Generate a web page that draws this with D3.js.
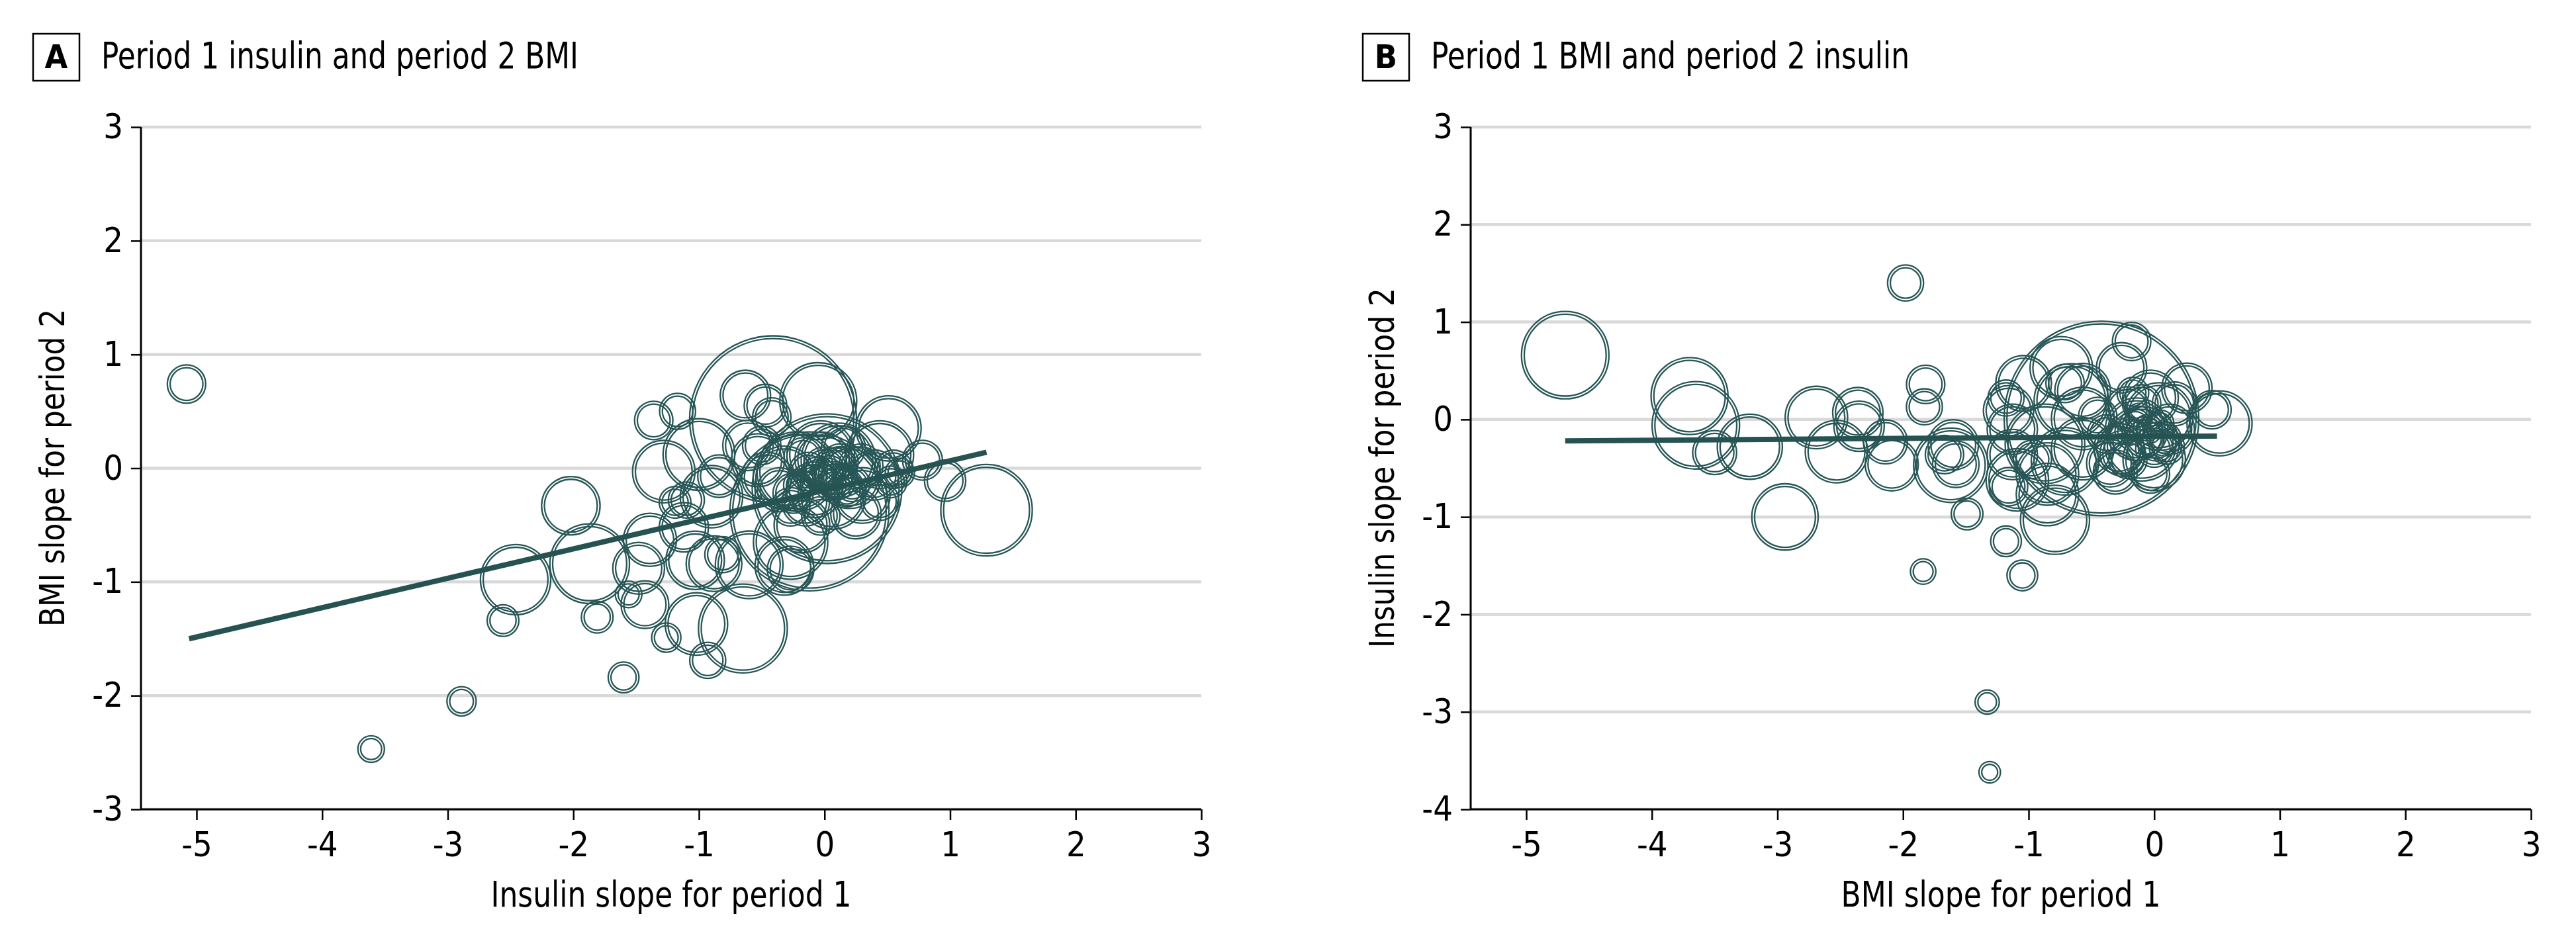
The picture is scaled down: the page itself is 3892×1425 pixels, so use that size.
<!DOCTYPE html>
<html>
<head>
<meta charset="utf-8">
<script src="https://cdn.jsdelivr.net/npm/d3@7"></script>
<style>
  body { margin: 0; background: #fff; }
  svg text { font-family: "Liberation Sans Narrow", "DejaVu Sans Condensed", "Roboto Condensed", sans-serif; fill: #000; }
</style>
</head>
<body>
<svg id="chart" width="3892" height="1425"></svg>
<script>
// panel A: period 1 insulin slope (x) vs period 2 BMI slope (y), weight -> bubble area
const insulinP1 = [-5.08, -3.61, -2.89, -2.56, -2.46, -2.02, -1.87, -1.81, -1.60, -1.56, -1.43, -1.36, -1.17, -1.28, -1.26, -0.93, -0.65, -1.02, -1.39, -1.48,
  -1.12, -1.03, -0.88, -0.81, -0.60, -0.32, -0.27, -0.27, -0.18, -0.61, -0.53, -1.00, -0.84, -0.90, -1.10, -1.19, -0.41, -0.63, -0.05, 0.51,
  -0.47, -0.42, 0.78, 0.96, 1.29, 0.02, -0.12, -0.03, 0.11, -0.22, -0.32, 0.20, 0.29, 0.39, 0.55, 0.60, -0.08, 0.06, -0.13, 0.04,
  -0.17, 0.15, -0.36, -0.46, 0.30, 0.44, 0.25, -0.03, -0.27, 0.44, -0.50, 0.53, -0.10, 0.10, -0.20, 0.00, 0.18,
  -0.05, 0.08, -0.25, 0.12, -0.15, 0.22, -0.02, 0.05];
const bmiP2 = [0.74, -2.47, -2.05, -1.34, -0.98, -0.33, -0.84, -1.31, -1.84, -1.11, -1.20, 0.42, 0.50, -0.03, -1.49, -1.69, -1.41, -1.37, -0.63, -0.88,
  -0.52, -0.81, -0.84, -0.76, -0.85, -0.86, -0.89, -0.65, -0.50, 0.20, 0.07, 0.12, -0.07, -0.25, -0.28, -0.30, 0.43, 0.64, 0.59, 0.35,
  0.55, 0.45, 0.07, -0.11, -0.37, -0.18, -0.38, 0.12, 0.07, -0.03, -0.08, -0.08, 0.02, -0.06, -0.01, -0.04, -0.19, -0.24, -0.03, -0.03,
  0.10, 0.18, -0.19, -0.08, -0.24, -0.29, -0.40, -0.42, -0.34, 0.12, 0.20, -0.12, -0.10, -0.12, -0.15, 0.00, -0.20,
  -0.05, -0.02, -0.22, 0.05, -0.30, -0.14, 0.08, -0.15];
const weightA = [4.7, 2.1, 2.6, 3.1, 16.9, 11.5, 21.9, 3.1, 2.9, 2.1, 7.5, 4.7, 4.1, 13.2, 2.6, 4.1, 27.5, 13.2, 9.4, 8.9,
  8.0, 11.5, 10.4, 4.1, 15.6, 11.5, 7.1, 19.0, 10.4, 8.4, 9.4, 17.6, 5.9, 13.2, 4.1, 3.1, 100, 8.4, 20.4, 14.4,
  5.9, 4.7, 5.1, 5.5, 29.2, 80.1, 90.6, 15.6, 19.0, 21.9, 13.2, 13.2, 6.3, 8.4, 4.7, 2.6, 10.4, 15.6, 4.7, 3.1,
  4.7, 6.3, 6.3, 8.4, 10.4, 4.7, 8.4, 4.7, 4.7, 15.6, 4.7, 3.1, 2.6, 4.1, 3.1, 5.9, 3.1,
  3.6, 6.8, 5.2, 4.4, 7.4, 3.9, 9.8, 2.9];
const fitAx = [-5.06, 1.29];
const fitAy = [-1.50, 0.14];

// panel B: period 1 BMI slope (x) vs period 2 insulin slope (y)
const bmiP1 = [-4.69, -3.70, -3.65, -3.50, -3.22, -2.94, -2.69, -2.53, -2.36, -2.35, -2.14, -2.09, -1.98, -1.82, -1.83, -1.84, -1.49, -1.33, -1.31, -1.18,
  -1.05, -1.62, -1.60, -1.67, -1.58, -1.16, -1.18, -1.13, -1.04, -0.74, -0.42, -0.18, -0.26, -0.57, -0.71, 0.26, 0.46, 0.52, -0.03, 0.04,
  -0.14, -0.10, -0.28, -0.38, 0.00, -0.03, -0.31, -0.57, -0.71, -0.85, -0.79, -0.85, -1.09, -1.16, -0.97, -0.87, -1.13, -0.57, -0.66, -0.45,
  -0.21, -0.10, 0.12, 0.16, -0.17, 0.02, -0.21, -0.05, -0.12, 0.05,
  -0.08, 0.08, -0.25, -0.15, 0.00, -0.35, 0.10, -0.20];
const insulinP2 = [0.66, 0.24, -0.06, -0.34, -0.28, -1.00, 0.02, -0.33, 0.07, -0.07, -0.23, -0.46, 1.40, 0.36, 0.13, -1.56, -0.97, -2.90, -3.62, -1.25,
  -1.60, -0.47, -0.26, -0.36, -0.46, 0.09, 0.22, -0.10, 0.37, 0.53, 0.01, 0.80, 0.53, 0.29, 0.37, 0.32, 0.10, -0.04, 0.22, 0.03,
  -0.10, -0.25, -0.30, -0.15, -0.41, -0.56, -0.54, -0.30, -0.43, -0.56, -1.03, -0.77, -0.62, -0.69, -0.41, -0.25, -0.36, 0.01, 0.19, 0.03,
  0.11, 0.16, -0.10, 0.16, 0.27, -0.23, -0.41, -0.10, 0.03, -0.04,
  -0.18, -0.20, -0.35, -0.05, -0.30, -0.45, -0.28, -0.12];
const weightB = [26.6, 20.4, 26.6, 6.3, 14.4, 15.0, 13.2, 13.2, 8.4, 8.4, 6.3, 9.4, 4.1, 4.7, 4.1, 1.9, 3.1, 1.7, 1.3, 2.9,
  2.9, 19.0, 8.4, 4.7, 7.1, 8.4, 4.1, 8.4, 10.4, 13.2, 136.7, 4.7, 8.4, 10.4, 4.7, 8.4, 4.7, 14.4, 10.4, 15.6,
  13.2, 19.0, 8.4, 4.7, 13.2, 4.7, 6.3, 13.2, 15.6, 13.2, 16.3, 13.2, 13.2, 4.7, 4.7, 21.9, 8.4, 13.2, 19.0, 4.7,
  6.3, 4.7, 8.4, 6.3, 3.1, 4.7, 4.7, 2.6, 2.1, 2.1,
  5.2, 3.6, 6.8, 2.9, 4.4, 7.4, 3.9, 2.4];
const fitBx = [-4.69, 0.50];
const fitBy = [-0.22, -0.17];

const xTicks = [-5, -4, -3, -2, -1, 0, 1, 2, 3];
const yTicksA = [-3, -2, -1, 0, 1, 2, 3];
const yTicksB = [-4, -3, -2, -1, 0, 1, 2, 3];

const svg = d3.select("#chart");
const teal = "#285656";
const rScale = d3.scaleSqrt().domain([0, 100]).range([0, 124]);

function drawPanel(cfg) {
    const g = svg.append("g");
    const x = d3.scaleLinear().domain([-5, 3]).range([cfg.x0, cfg.x0 + 1518]);
    const y = d3.scaleLinear().domain([cfg.yTicks[0], 3]).range([1223, 192]);
    const left = cfg.x0 - 84, right = x(3);

    // gridlines
    g.append("g").selectAll("line")
        .data(cfg.yTicks)
        .join("line")
        .attr("x1", left).attr("x2", right)
        .attr("y1", d => y(d)).attr("y2", d => y(d))
        .attr("stroke", "#d9d9d9")
        .attr("stroke-width", 4.5);

    // bubbles, drawn as a thin double ring
    const pts = cfg.xs.map((v, i) => ({x: v, y: cfg.ys[i], w: cfg.ws[i]}));
    const bub = g.append("g").attr("fill", "none").attr("stroke", teal).attr("stroke-width", 2.3);
    [-2.1, 2.1].forEach(off => {
        bub.append("g").selectAll("circle")
            .data(pts)
            .join("circle")
            .attr("cx", d => x(d.x))
            .attr("cy", d => y(d.y))
            .attr("r", d => rScale(d.w) + off);
    });

    // fitted line
    g.append("path")
        .datum(cfg.fx.map((v, i) => [v, cfg.fy[i]]))
        .attr("d", d3.line().x(d => x(d[0])).y(d => y(d[1])))
        .attr("fill", "none")
        .attr("stroke", "#265252")
        .attr("stroke-width", 8);

    // axes
    const xAxis = g.append("g")
        .attr("transform", "translate(0,1223)")
        .call(d3.axisBottom(x).tickValues(xTicks).tickSize(16).tickPadding(18).tickFormat(d3.format("d")));
    xAxis.select(".domain").remove();
    xAxis.selectAll(".tick line").attr("stroke", "#000").attr("stroke-width", 2.5);
    xAxis.selectAll("text").attr("font-size", 52).text(d => String(d));

    const yAxis = g.append("g")
        .attr("transform", `translate(${left},0)`)
        .call(d3.axisLeft(y).tickValues(cfg.yTicks).tickSize(15).tickPadding(12).tickFormat(d3.format("d")));
    yAxis.select(".domain").remove();
    yAxis.selectAll(".tick line").attr("stroke", "#000").attr("stroke-width", 2.5);
    yAxis.selectAll("text").attr("font-size", 52).text(d => String(d));

    g.append("line").attr("x1", left).attr("x2", right).attr("y1", 1223).attr("y2", 1223)
        .attr("stroke", "#000").attr("stroke-width", 3);
    g.append("line").attr("x1", left).attr("x2", left).attr("y1", 192).attr("y2", 1223)
        .attr("stroke", "#000").attr("stroke-width", 3);

    // axis titles
    g.append("text")
        .attr("x", (left + right) / 2).attr("y", 1370)
        .attr("text-anchor", "middle")
        .attr("font-size", 54)
        .attr("textLength", cfg.xLen).attr("lengthAdjust", "spacingAndGlyphs")
        .text(cfg.xLabel);
    g.append("text")
        .attr("transform", `translate(${left - 116},707) rotate(-90)`)
        .attr("text-anchor", "middle")
        .attr("font-size", 52)
        .attr("textLength", cfg.yLen).attr("lengthAdjust", "spacingAndGlyphs")
        .text(cfg.yLabel);

    // panel letter and heading
    g.append("rect")
        .attr("x", cfg.boxX).attr("y", 51).attr("width", 70).attr("height", 71)
        .attr("fill", "none").attr("stroke", "#000").attr("stroke-width", 2.5);
    g.append("text")
        .attr("x", cfg.boxX + 35).attr("y", 103)
        .attr("text-anchor", "middle")
        .attr("font-size", 50).attr("font-weight", "bold")
        .text(cfg.letter);
    g.append("text")
        .attr("x", cfg.boxX + 103).attr("y", 103)
        .attr("font-size", 56)
        .attr("textLength", cfg.titleLen).attr("lengthAdjust", "spacingAndGlyphs")
        .text(cfg.title);
}

drawPanel({
    x0: 297, yTicks: yTicksA, xs: insulinP1, ys: bmiP2, ws: weightA, fx: fitAx, fy: fitAy,
    xLabel: "Insulin slope for period 1", xLen: 545,
    yLabel: "BMI slope for period 2", yLen: 480,
    boxX: 50, letter: "A", title: "Period 1 insulin and period 2 BMI", titleLen: 721
});
drawPanel({
    x0: 2306, yTicks: yTicksB, xs: bmiP1, ys: insulinP2, ws: weightB, fx: fitBx, fy: fitBy,
    xLabel: "BMI slope for period 1", xLen: 483,
    yLabel: "Insulin slope for period 2", yLen: 544,
    boxX: 2059, letter: "B", title: "Period 1 BMI and period 2 insulin", titleLen: 723
});
</script>
</body>
</html>
